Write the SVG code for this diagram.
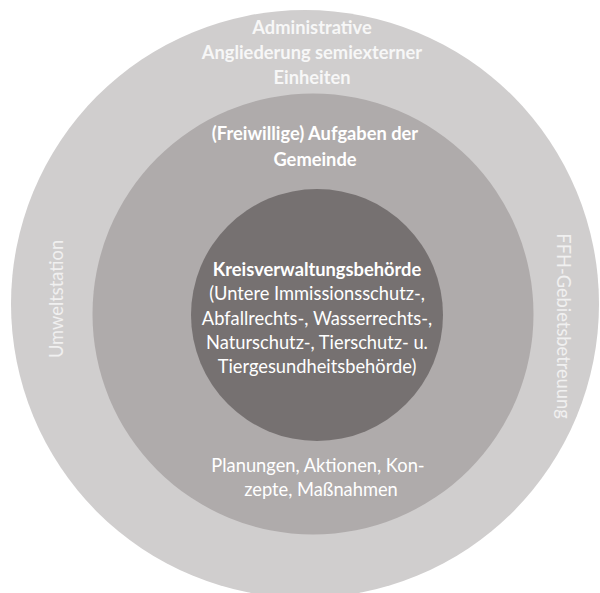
<svg xmlns="http://www.w3.org/2000/svg" width="600" height="593" viewBox="0 0 600 593">
<style>
  text { font-family: Lato, "Open Sans", "Liberation Sans", sans-serif; font-size: 18.3px; fill: #ffffff; text-anchor: middle; }
  .b { font-weight: bold; }
  .outer { fill: #f7f7f7; }
  .side { fill: #f0f0f0; }
</style>
<rect width="600" height="593" fill="#ffffff"/>
<g id="ring-outer">
  <circle cx="305" cy="304" r="294" fill="#d0cece"/>
  <text class="b outer" x="312" y="34">Administrative</text>
  <text class="b outer" x="312" y="59">Angliederung semiexterner</text>
  <text class="b outer" x="312" y="84">Einheiten</text>
  <text class="side" transform="translate(63,299) rotate(-90)">Umweltstation</text>
  <text class="side" transform="translate(557,326) rotate(90)">FFH-Gebietsbetreuung</text>
</g>
<g id="ring-middle">
  <circle cx="313" cy="314" r="220.5" fill="#afabab"/>
  <text class="b" x="315" y="140">(Freiwillige) Aufgaben der</text>
  <text class="b" x="315" y="166">Gemeinde</text>
  <text x="318" y="472">Planungen, Aktionen, Kon-</text>
  <text x="321" y="496">zepte, Maßnahmen</text>
</g>
<g id="ring-inner">
  <circle cx="317" cy="315" r="126" fill="#767171"/>
  <text class="b" x="317" y="276">Kreisverwaltungsbehörde</text>
  <text x="317" y="300">(Untere Immissionsschutz-,</text>
  <text x="317" y="325">Abfallrechts-, Wasserrechts-,</text>
  <text x="317" y="349">Naturschutz-, Tierschutz- u.</text>
  <text x="317" y="373">Tiergesundheitsbehörde)</text>
</g>
<g id="connectors"></g>
</svg>
